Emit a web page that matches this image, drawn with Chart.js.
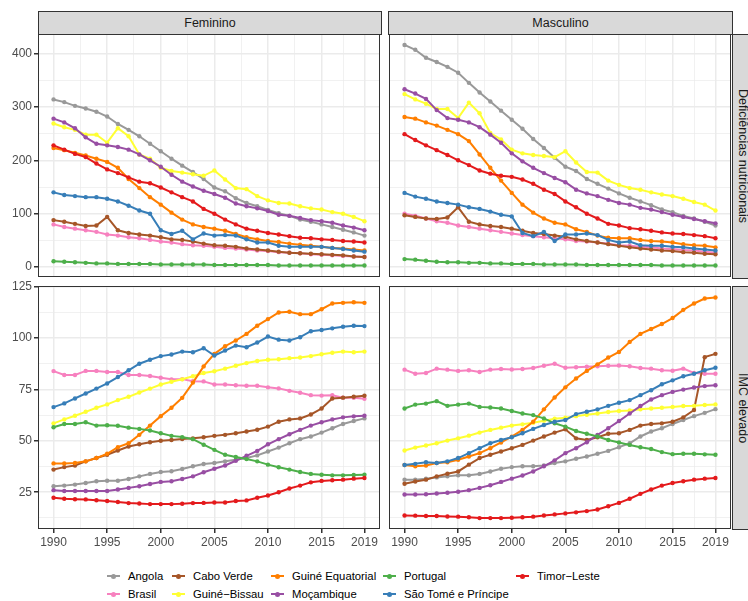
<!DOCTYPE html>
<html>
<head>
<meta charset="utf-8">
<script src="https://cdn.jsdelivr.net/npm/chart.js@4.4.1/dist/chart.umd.min.js"></script>
<style>
  body { margin: 0; width: 748px; height: 601px; background: #fff; position: relative; overflow: hidden;
         font-family: "Liberation Sans", Arial, sans-serif; }
  canvas { position: absolute; }
  .strip { position: absolute; background: #d9d9d9; border: 1px solid #333; box-sizing: border-box;
           color: #1a1a1a; font-size: 12.5px; display: flex; align-items: center; justify-content: center; }
  .strip.v span { writing-mode: vertical-rl; }
  .leg { position: absolute; font-size: 11.3px; color: #000; line-height: 14px; white-space: nowrap; }
  .key { position: absolute; width: 13px; height: 2px; }
  .dot { position: absolute; width: 5px; height: 5px; border-radius: 50%; }
</style>
</head>
<body>
<div class="strip" style="left:38px;top:11px;width:344px;height:24px;">Feminino</div>
<div class="strip" style="left:388px;top:11px;width:345px;height:24px;">Masculino</div>
<div class="strip v" style="left:732px;top:34px;width:22px;height:245px;"><span>Deficiências nutricionais</span></div>
<div class="strip v" style="left:732px;top:286px;width:22px;height:244px;"><span>IMC elevado</span></div>

<canvas id="tl" width="384" height="251" style="left:0;top:30px;"></canvas>
<canvas id="tr" width="350" height="251" style="left:385px;top:30px;"></canvas>
<canvas id="bl" width="384" height="281" style="left:0;top:279px;"></canvas>
<canvas id="br" width="350" height="281" style="left:385px;top:279px;"></canvas>
<div id="legend"></div>

<script>
// ---- data ----
const years = [1990, 1991, 1992, 1993, 1994, 1995, 1996, 1997, 1998, 1999, 2000, 2001, 2002, 2003, 2004,
               2005, 2006, 2007, 2008, 2009, 2010, 2011, 2012, 2013, 2014, 2015, 2016, 2017, 2018, 2019];

const countries = ['Angola', 'Brasil', 'Cabo Verde', 'Guiné−Bissau', 'Guiné Equatorial',
                   'Moçambique', 'Portugal', 'São Tomé e Príncipe', 'Timor−Leste'];
const colors = ['#999999', '#F781BF', '#A65628', '#FFFF33', '#FF7F00', '#984EA3', '#4DAF4A', '#377EB8', '#E41A1C'];

// Deficiências nutricionais - Feminino
const angolaDefF = [314, 309, 302, 297, 291, 282, 268, 257, 245, 231, 217, 203, 190, 178, 165, 149, 142, 129, 120, 114, 107, 101, 96, 89, 85, 80, 75, 70, 65, 59];
const brasilDefF = [80, 75, 72, 69, 66, 61, 59, 56, 54, 51, 48, 46, 43, 41, 40, 38, 36, 35, 33, 31, 30, 28, 27, 26, 24, 23, 22, 21, 20, 19];
const caboVerdeDefF = [88, 85, 81, 77, 78, 94, 69, 64, 61, 59, 56, 52, 51, 48, 44, 41, 40, 38, 35, 33, 31, 29, 27, 26, 25, 24, 23, 22, 20, 19];
const guineBissauDefF = [269, 262, 257, 248, 248, 233, 260, 245, 211, 203, 186, 180, 177, 174, 171, 181, 164, 148, 146, 133, 125, 120, 119, 114, 110, 108, 103, 100, 94, 86];
const guineEqDefF = [223, 219, 214, 209, 203, 197, 186, 165, 148, 131, 117, 102, 89, 80, 75, 72, 68, 62, 56, 52, 49, 47, 44, 42, 40, 38, 36, 35, 33, 31];
const mocambiqueDefF = [278, 271, 260, 243, 231, 228, 225, 220, 211, 200, 188, 173, 160, 151, 143, 137, 130, 119, 114, 110, 105, 98, 96, 92, 88, 86, 83, 78, 74, 69];
const portugalDefF = [11, 10, 9, 8, 7, 7, 6, 6, 6, 6, 5, 5, 5, 5, 5, 4, 4, 4, 4, 4, 4, 3, 3, 3, 3, 3, 3, 3, 3, 3];
const saoTomeDefF = [140, 135, 133, 131, 131, 128, 123, 115, 106, 100, 69, 62, 68, 52, 63, 59, 60, 59, 52, 46, 46, 40, 38, 38, 38, 38, 36, 34, 31, 29];
const timorDefF = [228, 220, 212, 206, 194, 183, 176, 168, 160, 157, 149, 140, 131, 123, 109, 100, 89, 80, 72, 68, 64, 61, 58, 55, 54, 52, 51, 49, 48, 46];

// Deficiências nutricionais - Masculino
const angolaDefM = [416, 407, 392, 384, 375, 364, 345, 327, 310, 293, 276, 259, 240, 223, 205, 188, 180, 165, 156, 147, 138, 130, 123, 116, 108, 103, 96, 91, 85, 78];
const brasilDefM = [100, 96, 91, 86, 83, 78, 75, 72, 69, 66, 63, 60, 58, 56, 54, 52, 49, 48, 46, 44, 41, 40, 38, 37, 35, 34, 32, 31, 29, 27];
const caboVerdeDefM = [97, 94, 91, 90, 93, 112, 85, 80, 77, 75, 72, 68, 64, 62, 59, 57, 52, 49, 46, 43, 40, 37, 35, 33, 31, 30, 28, 27, 25, 24];
const guineBissauDefM = [324, 314, 306, 296, 296, 279, 308, 288, 251, 239, 220, 213, 210, 208, 206, 217, 196, 178, 177, 162, 154, 148, 145, 140, 136, 133, 128, 122, 117, 106];
const guineEqDefM = [281, 278, 271, 265, 257, 249, 236, 211, 186, 162, 139, 117, 102, 91, 83, 80, 71, 66, 59, 55, 54, 54, 51, 49, 48, 46, 43, 41, 40, 37];
const mocambiqueDefM = [333, 325, 315, 294, 279, 276, 271, 262, 248, 233, 213, 198, 186, 176, 167, 159, 145, 138, 133, 126, 120, 117, 111, 108, 103, 98, 94, 90, 86, 82];
const portugalDefM = [15, 14, 12, 10, 9, 9, 8, 8, 7, 7, 6, 6, 6, 5, 5, 5, 5, 4, 4, 4, 4, 4, 4, 4, 3, 3, 3, 3, 3, 3];
const saoTomeDefM = [139, 132, 128, 123, 120, 117, 112, 109, 104, 98, 95, 64, 58, 66, 49, 61, 61, 63, 60, 51, 46, 48, 41, 40, 40, 38, 37, 35, 33, 31];
const timorDefM = [249, 238, 228, 219, 210, 200, 191, 181, 175, 171, 169, 164, 156, 145, 137, 123, 112, 100, 91, 81, 78, 73, 71, 68, 65, 63, 62, 60, 58, 54];

// IMC elevado - Feminino
const angolaImcF = [27.9, 28.2, 28.7, 29.5, 30.3, 30.6, 30.6, 31.4, 32.7, 33.9, 34.8, 35.2, 36.3, 37.6, 38.7, 39.2, 40, 40.8, 41.6, 42.9, 44.8, 46.7, 48.8, 50.8, 52.1, 54, 56.1, 58.2, 59.6, 60.9];
const brasilImcF = [83.9, 82, 82, 84, 84, 83.5, 83.5, 82, 82, 81.5, 80.7, 79.9, 80, 79, 78.9, 77.4, 77.4, 77, 76.8, 76.8, 76, 75.5, 74.3, 73.4, 72.2, 72, 72.2, 71, 70.9, 70.4];
const caboVerdeImcF = [36, 37.2, 38, 40, 41.6, 43.2, 45.3, 47.2, 48.3, 49.3, 50, 50.4, 50.9, 51.2, 51.7, 52.4, 52.9, 53.7, 54.5, 55.4, 56.9, 59.3, 60.4, 60.9, 62.8, 65.7, 70.6, 71, 71.4, 71.9];
const guineBissauImcF = [58.5, 60.4, 62.2, 64.1, 66.1, 67.7, 69.8, 71.4, 73.5, 75.4, 77.4, 78.7, 79.9, 81.4, 83, 83.8, 85.1, 86.5, 87.8, 88.8, 89.4, 89.7, 90.2, 90.5, 91.2, 92.1, 92.8, 93.4, 93.1, 93.4];
const guineEqImcF = [39, 39, 39.2, 40, 41.6, 43.7, 46.9, 48.8, 52.9, 57.4, 62, 66.1, 70.9, 78.3, 86.2, 92.3, 96, 98.8, 102, 106, 109.2, 112.4, 112.8, 111.6, 111.6, 114, 116.8, 117.1, 117.4, 117.1];
const mocambiqueImcF = [26, 25.6, 25.6, 25.6, 25.6, 25.6, 26.3, 27.1, 27.9, 29, 30, 30.3, 31.4, 32.7, 34.7, 36.4, 38, 40.3, 42.7, 45.1, 48.3, 50.8, 53.2, 55.3, 57.4, 59, 60.4, 61.4, 61.9, 62.2];
const portugalImcF = [56.6, 58.2, 58.2, 59, 57.4, 57.6, 57.3, 56.4, 55.8, 55, 53.7, 52.4, 51.8, 50.8, 48.1, 45.6, 43.2, 42.1, 41.1, 40, 38.4, 37.1, 36, 34.8, 33.9, 33.5, 33.2, 33.2, 33.4, 33.5];
const saoTomeImcF = [66.4, 68.2, 70.6, 73, 75.4, 77.9, 81, 84.3, 87.5, 89.4, 91.2, 92, 93.4, 93.1, 95, 91.5, 93.9, 96.3, 95.5, 97.8, 100.7, 99.2, 98.8, 100.4, 103.3, 103.9, 104.7, 105.5, 106, 105.8];
const timorImcF = [22.3, 21.8, 21.6, 21.5, 21.1, 20.7, 20.2, 19.7, 19.5, 19.2, 19.2, 19.2, 19.4, 19.7, 19.8, 20, 20, 20.7, 21, 22.3, 23.4, 25, 26.8, 28.2, 29.8, 30.5, 30.8, 31.1, 31.6, 31.9];

// IMC elevado - Masculino
const angolaImcM = [31.1, 31.1, 31.6, 32.2, 32.7, 33.2, 33.2, 33.9, 35.1, 36.4, 37.2, 37.6, 37.6, 38, 39.2, 40, 41.3, 42.4, 43.7, 45.1, 46.9, 48.8, 52.1, 54.5, 56.1, 58.2, 60.1, 62, 63.6, 65.4];
const brasilImcM = [84.6, 82.6, 83, 85.1, 84.6, 84, 84.3, 83.5, 84.6, 84.9, 84.7, 84.9, 85.4, 86.5, 87.5, 85.5, 85.8, 86, 86.3, 86.5, 86.6, 86.3, 85.4, 85.1, 84.3, 84.1, 85.1, 83, 82.6, 82.6];
const caboVerdeImcM = [29.1, 30.2, 31.1, 32.7, 34, 35.1, 38.4, 41.6, 43.2, 44.8, 46.4, 48, 50.1, 52.1, 54, 55.6, 51.2, 50.4, 51.7, 53.4, 53.7, 55.3, 57.4, 58.2, 58.5, 59.3, 61.4, 65, 90.7, 92.3];
const guineBissauImcM = [45.3, 46.7, 47.7, 48.8, 50.1, 51.2, 52.5, 54, 55.3, 56.4, 57.4, 58, 58.8, 59.8, 60.7, 61.2, 62, 62.7, 63.3, 64, 64.5, 64.8, 65.3, 65.7, 66.1, 66.5, 66.9, 67, 67.4, 67.7];
const guineEqImcM = [38.2, 37.6, 38, 39.2, 39.6, 40.8, 42.4, 44, 46.4, 49.2, 52, 55.3, 59.3, 65.3, 71.1, 76, 80.3, 84, 87.2, 90.5, 93.2, 98.1, 102, 104.4, 106.8, 109.7, 113.7, 116.8, 119.2, 119.7];
const mocambiqueImcM = [23.9, 23.9, 24, 24.4, 24.7, 25.2, 26, 27.1, 28.4, 30, 31.6, 33.1, 35.1, 37.6, 40.5, 44, 46.4, 49.3, 52.9, 56.1, 59.6, 63.3, 66.9, 70.1, 72.2, 73.8, 74.9, 75.9, 76.6, 77];
const portugalImcM = [65.7, 67.6, 68.1, 69.3, 67, 67.6, 68.1, 66.5, 66.2, 65.7, 64.5, 63.3, 62.5, 60.9, 58.5, 56.9, 54.8, 53.4, 52.1, 50.4, 49.2, 48, 46.9, 46, 44.5, 43.5, 43.7, 43.7, 43.4, 43.2];
const saoTomeImcM = [38.2, 38.8, 39.6, 39.2, 40, 41.6, 44, 46.4, 48.8, 50.4, 51.7, 53.7, 55.8, 57.7, 59.3, 60.1, 63, 64.1, 65.3, 67, 68.5, 69.8, 72.2, 74.6, 77.5, 79.4, 81.4, 82.6, 84.3, 85.5];
const timorImcM = [13.7, 13.6, 13.4, 13.4, 13.2, 13.1, 12.8, 12.4, 12.4, 12.4, 12.6, 12.8, 13.1, 13.7, 14.2, 14.7, 15.2, 15.8, 16.6, 18.2, 19.8, 21.8, 24.2, 26.3, 28.2, 29.5, 30.3, 31.1, 31.6, 31.9];

// axis breaks (major gets a label, minor only a grid line)
const xBreaks = [1990, 1992.5, 1995, 1997.5, 2000, 2002.5, 2005, 2007.5, 2010, 2012.5, 2015, 2017, 2019];
const xLabels = [1990, 1995, 2000, 2005, 2010, 2015, 2019];
const yBreaksDef = [0, 50, 100, 150, 200, 250, 300, 350, 400];
const yLabelsDef = [0, 100, 200, 300, 400];
const yBreaksImc = [12.5, 25, 37.5, 50, 62.5, 75, 87.5, 100, 112.5, 125];
const yLabelsImc = [25, 50, 75, 100, 125];

const FONT = 'Liberation Sans, Arial, sans-serif';

// ggplot-like panel border drawn over the data
const borderPlugin = {
    id: 'panelBorder',
    afterDatasetsDraw(chart) {
        const { left, top, right, bottom } = chart.chartArea;
        const c = chart.ctx;
        c.save();
        c.strokeStyle = '#333333';
        c.lineWidth = 1;
        c.strokeRect(left + 0.5, top + 0.5, right - left - 1, bottom - top - 1);
        c.restore();
    }
};

function axis(breaks, labels, min, max, showLabels, fitSize, isX) {
    return {
        type: 'linear',
        min, max,
        afterBuildTicks: (scale) => { scale.ticks = breaks.map(v => ({ value: v })); },
        afterFit: (scale) => {
            // fixed axis size, and no extra room for overhanging labels
            if (isX) scale.height = fitSize; else scale.width = fitSize;
            scale.paddingTop = 0;
            scale.paddingBottom = 0;
            scale.paddingLeft = 0;
            scale.paddingRight = 0;
        },
        border: { display: false },
        grid: {
            color: '#ebebeb',
            lineWidth: (ctx) => (ctx.tick && labels.includes(ctx.tick.value)) ? 1.5 : 0.7,
            drawTicks: showLabels,
            tickLength: 4,
            tickColor: (ctx) => (ctx.tick && labels.includes(ctx.tick.value)) ? '#333333' : 'rgba(0,0,0,0)'
        },
        ticks: {
            display: showLabels,
            autoSkip: false,
            maxRotation: 0,
            padding: 2,
            color: '#4d4d4d',
            font: { family: FONT, size: 12 },
            callback: (v) => labels.includes(v) ? String(v) : ''
        }
    };
}

function makePanel(id, series, rowDef, showX, showY, pad) {
    const datasets = series.map((vals, i) => ({
        label: countries[i],
        data: years.map((y, j) => ({ x: y, y: vals[j] })),
        borderColor: colors[i],
        backgroundColor: colors[i],
        borderWidth: 2,
        pointRadius: 2.2,
        pointBorderWidth: 0,
        pointBackgroundColor: colors[i],
        tension: 0,
        order: series.length - i
    }));
    const yAxis = rowDef
        ? axis(yBreaksDef, yLabelsDef, -18.5, 436.5, showY, showY ? 38 : 0, false)
        : axis(yBreaksImc, yLabelsImc, 7.1, 125.3, showY, showY ? 38 : 0, false);
    new Chart(document.getElementById(id), {
        type: 'line',
        data: { datasets },
        plugins: [borderPlugin],
        options: {
            responsive: false,
            animation: false,
            devicePixelRatio: 1,
            events: [],
            layout: { padding: pad },
            plugins: { legend: { display: false }, tooltip: { enabled: false } },
            scales: {
                x: axis(xBreaks, xLabels, 1988.55, 2020.45, showX, showX ? 31 : 0, true),
                y: yAxis
            }
        }
    });
}

makePanel('tl', [angolaDefF, brasilDefF, caboVerdeDefF, guineBissauDefF, guineEqDefF, mocambiqueDefF, portugalDefF, saoTomeDefF, timorDefF],
          true, false, true, { left: 0, top: 4, right: 3, bottom: 3 });
makePanel('tr', [angolaDefM, brasilDefM, caboVerdeDefM, guineBissauDefM, guineEqDefM, mocambiqueDefM, portugalDefM, saoTomeDefM, timorDefM],
          true, false, false, { left: 3, top: 4, right: 3, bottom: 3 });
makePanel('bl', [angolaImcF, brasilImcF, caboVerdeImcF, guineBissauImcF, guineEqImcF, mocambiqueImcF, portugalImcF, saoTomeImcF, timorImcF],
          false, true, true, { left: 0, top: 7, right: 3, bottom: 0 });
makePanel('br', [angolaImcM, brasilImcM, caboVerdeImcM, guineBissauImcM, guineEqImcM, mocambiqueImcM, portugalImcM, saoTomeImcM, timorImcM],
          false, true, false, { left: 3, top: 7, right: 3, bottom: 0 });

// legend: two rows, filled column by column
const legendCols = [113, 178, 277, 389, 522];
const legendRows = [576, 594];
const legend = document.getElementById('legend');
countries.forEach((name, i) => {
    const col = Math.floor(i / 2), row = i % 2;
    const cx = legendCols[col], cy = legendRows[row];
    const line = document.createElement('div');
    line.className = 'key';
    line.style.left = (cx - 6.5) + 'px';
    line.style.top = (cy - 1) + 'px';
    line.style.background = colors[i];
    const dot = document.createElement('div');
    dot.className = 'dot';
    dot.style.left = (cx - 2.5) + 'px';
    dot.style.top = (cy - 2.5) + 'px';
    dot.style.background = colors[i];
    const txt = document.createElement('div');
    txt.className = 'leg';
    txt.textContent = name;
    txt.style.left = (cx + 15) + 'px';
    txt.style.top = (cy - 7) + 'px';
    legend.append(line, dot, txt);
});
</script>
</body>
</html>
